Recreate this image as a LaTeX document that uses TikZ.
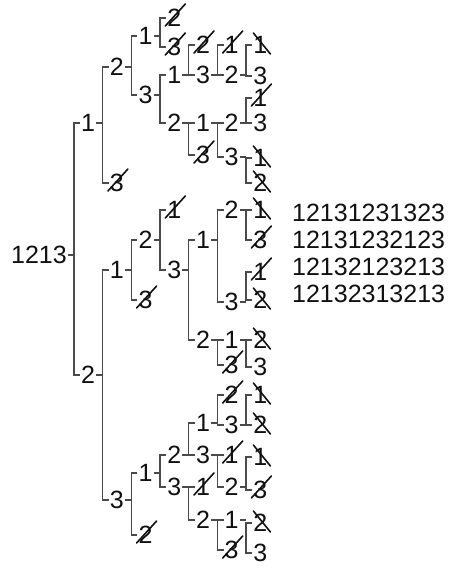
\documentclass[tikz,border=0pt]{standalone}
\usepackage{fontspec}
\setmainfont{Liberation Sans}
\usetikzlibrary{calc}
\definecolor{ink}{HTML}{111111}
\definecolor{wire}{HTML}{4A4A4A}
\tikzset{
  lab/.style={font=\fontsize{12.5}{12.5}\selectfont, text=ink, inner sep=0.4pt},
  link/.style={draw=wire, line width=0.6pt},
  strike/.style={draw=ink, line width=0.8pt, line cap=round},
}
\begin{document}
\begin{tikzpicture}[x=0.5pt,y=-0.5pt]
  \path[fill=white] (0,0) rectangle (449,570);
  \useasboundingbox (0,0) rectangle (449,570);
  \node[lab] (r) at (39,255) {1213};
  \foreach \n/\d/\y/\t in {
      p1/1/123/1, p2/1/375/2,
      p12/2/67/2, p13/2/183/3, p21/2/270/1, p23/2/500/3,
      p121/3/36/1, p123/3/95/3, p212/3/240/2, p213/3/300/3, p231/3/473/1, p232/3/535/2,
      p1212/4/18/2, p1213/4/47/3, p1231/4/75/1, p1232/4/123/2, p2121/4/210/1, p2123/4/270/3,
      p2312/4/455/2, p2313/4/487/3,
      p12312/5/45/2, p12313/5/75/3, p12321/5/123/1, p12323/5/155/3, p21231/5/240/1, p21232/5/340/2,
      p23121/5/423/1, p23123/5/455/3, p23131/5/487/1, p23132/5/520/2,
      p123131/6/45/1, p123132/6/75/2, p123212/6/123/2, p123213/6/157/3, p212312/6/210/2, p212313/6/302/3,
      p212321/6/340/1, p212323/6/365/3, p231212/6/395/2, p231213/6/425/3, p231231/6/455/1, p231232/6/487/2,
      p231321/6/520/1, p231323/6/550/3,
      p1231321/7/45/1, p1231323/7/76/3, p1232121/7/98/1, p1232123/7/123/3, p1232131/7/158/1, p1232132/7/183/2,
      p2123121/7/210/1, p2123123/7/240/3, p2123131/7/272/1, p2123132/7/300/2, p2123212/7/340/2, p2123213/7/367/3,
      p2312131/7/395/1, p2312132/7/425/2, p2312321/7/457/1, p2312323/7/490/3, p2313212/7/523/2, p2313213/7/553/3} {
    \node[lab] (\n) at ({59.5+28.7*\d},\y) {\t};
  }
  \foreach \p/\a/\b in {r/p1/p2, p1/p12/p13, p2/p21/p23, p12/p121/p123, p21/p212/p213, p23/p231/p232,
      p121/p1212/p1213, p123/p1231/p1232, p212/p2121/p2123, p231/p2312/p2313,
      p1231/p12312/p12313, p1232/p12321/p12323, p2123/p21231/p21232, p2312/p23121/p23123, p2313/p23131/p23132,
      p12313/p123131/p123132, p12321/p123212/p123213, p21231/p212312/p212313, p21232/p212321/p212323,
      p23121/p231212/p231213, p23123/p231231/p231232, p23132/p231321/p231323,
      p123132/p1231321/p1231323, p123212/p1232121/p1232123, p123213/p1232131/p1232132,
      p212312/p2123121/p2123123, p212313/p2123131/p2123132, p212321/p2123212/p2123213,
      p231213/p2312131/p2312132, p231232/p2312321/p2312323, p231321/p2313212/p2313213} {
    \coordinate (m) at ($(\p.east)!.5!(\a.west)$);
    \draw[link] (\p.east) -- (m |- \p.east) (\a.west) -- (m |- \a.west) -- (m |- \b.west) -- (\b.west);
  }
  \foreach \n in {p13, p1212, p1213, p12312, p123131, p12323, p1232121, p213, p2121, p2123123, p2123131,
      p212323, p232, p231212, p231231, p2312323, p23131, p231323}
    \draw[strike] ([shift={(-9,8)}]\n.center) -- ([shift={(11,-14)}]\n.center);
  \foreach \n in {p1231321, p1232131, p1232132, p2123121, p2123132, p2123212, p2312131, p2312132,
      p2312321, p2313212}
    \draw[strike] ([shift={(-7,-12)}]\n.center) -- ([shift={(10,9)}]\n.center);
  \foreach \s/\y/\t in {s1/213/12131231323, s2/240/12131232123, s3/267/12132123213, s4/294/12132313213}
    \node[lab, anchor=west] (\s) at (291,\y) {\t};
\end{tikzpicture}
\end{document}
